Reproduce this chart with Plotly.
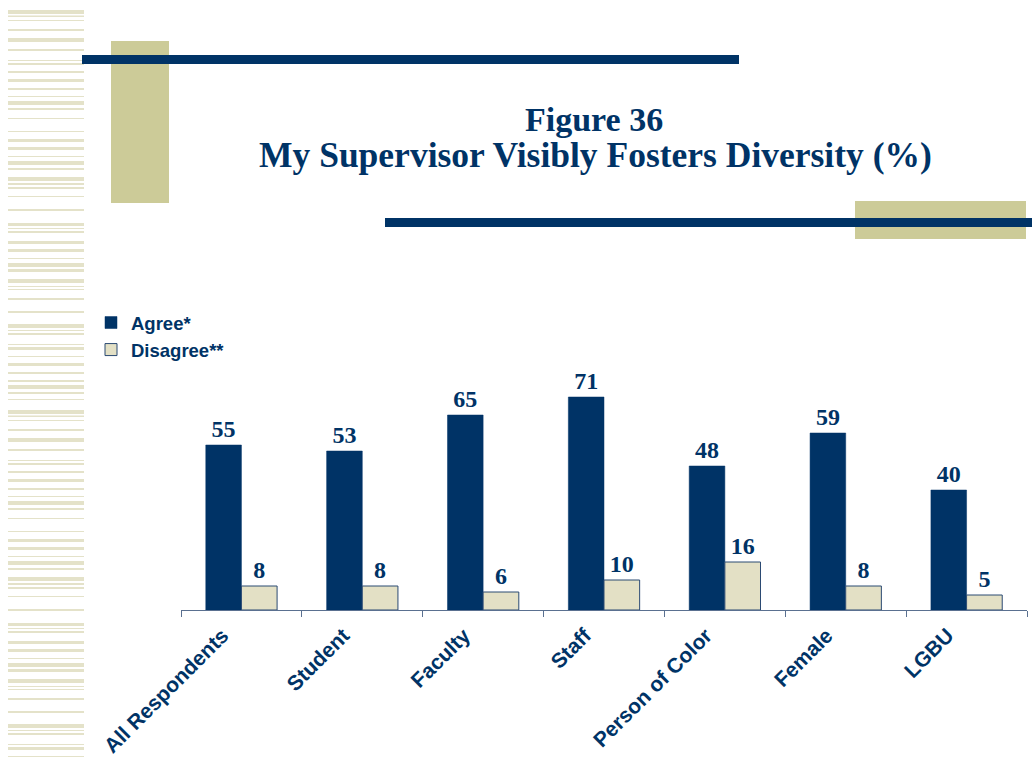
import plotly.graph_objects as go

# Survey results: share of respondents agreeing / disagreeing, by group
categories = ["All Respondents", "Student", "Faculty", "Staff",
              "Person of Color", "Female", "LGBU"]
agree = [55, 53, 65, 71, 48, 59, 40]
disagree = [8, 8, 6, 10, 16, 8, 5]

NAVY = "#003366"
BEIGE = "#E3E0C5"
KHAKI = "#CCCB98"
STRIPE = "#E4E2C9"

W_FIG, H_FIG = 1032, 759
L, R, T, B = 181, 1027, 370, 610


def px(x):
    return (x - L) / (R - L)


def py(y):
    return (B - y) / (B - T)


fig = go.Figure()
fig.add_trace(go.Bar(
    name="Agree*", x=categories, y=agree,
    marker=dict(color=NAVY, line=dict(color=NAVY, width=0.5)),
    text=agree, texttemplate="%{text}", textposition="outside",
    textfont=dict(family="Liberation Serif", size=24, color=NAVY, weight="bold"),
    constraintext="none", cliponaxis=False, legendgroup="a",
))
fig.add_trace(go.Bar(
    name="Disagree**", x=categories, y=disagree,
    marker=dict(color=BEIGE, line=dict(color="#2B4A73", width=1)),
    text=disagree, texttemplate="%{text}", textposition="outside",
    textfont=dict(family="Liberation Serif", size=24, color=NAVY, weight="bold"),
    constraintext="none", cliponaxis=False, legendgroup="b",
))

shapes = []

# striped band down the left edge
stripe_rows = [
    (10, 14), (15.5, 17), (20, 21), (29, 31), (38, 42), (49, 51), (60, 61),
    (63, 65), (71, 73), (79, 82), (88, 90), (96, 97), (101, 105), (108, 110),
    (118, 119), (131, 132), (139, 142), (147, 150), (156, 157), (161, 165),
    (168, 170), (177, 181), (183, 185), (187, 189), (196, 197), (209, 211),
    (223, 226), (228, 229), (231, 233), (241, 244), (249, 252), (258, 259),
    (263, 267), (269, 272), (279, 283), (286, 287), (289, 290), (298, 300),
    (311, 313), (324, 328), (330, 331), (333, 335), (344, 345), (347, 350),
    (356, 357), (363, 366), (372, 374), (380, 382), (385, 389), (392, 394),
    (399, 400),
]
for offset in (0, 400):
    for y0, y1 in stripe_rows:
        if y0 + offset > H_FIG:
            continue
        shapes.append(dict(type="rect", xref="paper", yref="paper",
                           x0=px(8), x1=px(84), y0=py(y0 + offset), y1=py(y1 + offset),
                           fillcolor=STRIPE, line=dict(width=0), layer="below"))

# khaki blocks
shapes.append(dict(type="rect", xref="paper", yref="paper",
                   x0=px(111), x1=px(169), y0=py(41), y1=py(203),
                   fillcolor=KHAKI, line=dict(width=0), layer="below"))
shapes.append(dict(type="rect", xref="paper", yref="paper",
                   x0=px(855), x1=px(1026), y0=py(201), y1=py(239),
                   fillcolor=KHAKI, line=dict(width=0), layer="below"))
# navy rules
shapes.append(dict(type="rect", xref="paper", yref="paper",
                   x0=px(82), x1=px(739), y0=py(55), y1=py(64),
                   fillcolor=NAVY, line=dict(width=0), layer="below"))
shapes.append(dict(type="rect", xref="paper", yref="paper",
                   x0=px(385), x1=px(1032), y0=py(218), y1=py(227),
                   fillcolor=NAVY, line=dict(width=0), layer="below"))

annotations = [
    dict(text="Figure 36", xref="paper", yref="paper", x=px(594), y=py(119),
         xanchor="center", yanchor="middle", showarrow=False,
         font=dict(family="Liberation Serif", size=34, color=NAVY, weight="bold")),
    dict(text="My Supervisor Visibly Fosters Diversity (%)", xref="paper", yref="paper",
         x=px(595), y=py(155), xanchor="center", yanchor="middle", showarrow=False,
         font=dict(family="Liberation Serif", size=35.5, color=NAVY, weight="bold")),
]

fig.update_layout(
    width=W_FIG, height=H_FIG,
    margin=dict(l=L, r=W_FIG - R, t=T, b=H_FIG - B, pad=0, autoexpand=False),
    paper_bgcolor="white", plot_bgcolor="white",
    barmode="group", bargap=0.41, bargroupgap=0,
    shapes=shapes, annotations=annotations,
    showlegend=True,
    legend=dict(x=px(91), y=py(304), xanchor="left", yanchor="top",
                font=dict(family="Liberation Sans", size=18.5, color=NAVY, weight="bold"),
                bgcolor="rgba(0,0,0,0)", traceorder="grouped", tracegroupgap=0,
                itemwidth=30),
    xaxis=dict(showline=True, linecolor="#5A7090", linewidth=1,
               ticks="outside", tickson="boundaries", ticklen=6, tickcolor="#5A7090",
               tickangle=-45, ticklabelshift=-19, ticklabelstandoff=4, automargin=False,
               tickfont=dict(family="Liberation Sans", size=21, color=NAVY, weight="bold"),
               showgrid=False, zeroline=False),
    yaxis=dict(visible=False, range=[0, 80], showgrid=False, zeroline=False,
               automargin=False),
)

fig.write_html("out.html")
